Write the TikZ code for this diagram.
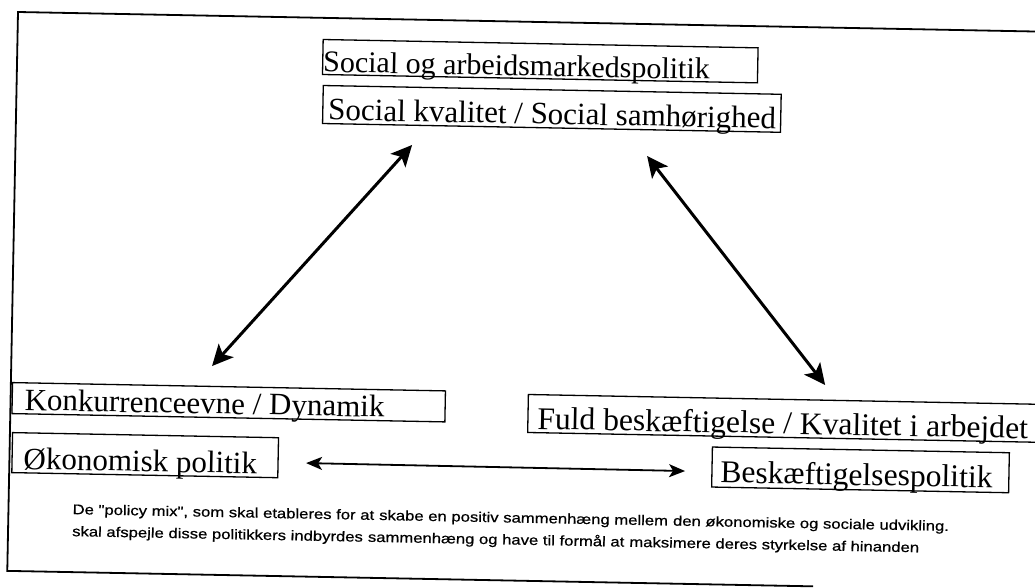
\documentclass[tikz,border=0pt]{standalone}
\usepackage{fontspec}
\setmainfont{Liberation Serif}
\newfontfamily\notefont[FakeStretch=1.19,FakeBold=0.6]{Liberation Sans}
\usetikzlibrary{arrows.meta}
\begin{document}
\begin{tikzpicture}[x=1pt,y=-1pt,
  frameline/.style={line width=1.8pt},
  box/.style={draw, line width=1.3pt, inner sep=0pt, anchor=north west},
  lbl/.style={inner sep=0pt, anchor=base west, font=\fontsize{31}{33}\selectfont},
  note/.style={inner sep=0pt, anchor=base west, font=\notefont\fontsize{14}{16}\selectfont},
  dbl/.style={line width=3pt, {Stealth[length=21pt,width=20pt,inset=5pt]}-{Stealth[length=21pt,width=20pt,inset=5pt]}},
  dblthin/.style={line width=1.8pt, {Stealth[length=16pt,width=13pt,inset=4pt]}-{Stealth[length=16pt,width=13pt,inset=4pt]}}]
\useasboundingbox[fill=white] (0,0) rectangle (1035,588);
\begin{scope}[shift={(18,12)}, rotate=-1.1, transform shape]
  % frame
  \draw[frameline] (1040,0) -- (0,0) -- (0,559) -- (806,559);
  % boxes
  \node[box, minimum width=435pt, minimum height=35pt] (b1) at (305,21) {};
  \node[lbl, font=\fontsize{30}{32}\selectfont] (t1) at (306,54) {Social og arbeidsmarkedspolitik};
  \node[box, minimum width=458pt, minimum height=38pt] (b2) at (306,67) {};
  \node[lbl] (t2) at (312,102) {Social kvalitet / Social samhørighed};
  \node[box, minimum width=433pt, minimum height=31pt] (b3) at (1,370) {};
  \node[lbl] (t3) at (14,398) {Konkurrenceevne / Dynamik};
  \node[box, minimum width=266pt, minimum height=40pt] (b4) at (2,420) {};
  \node[lbl] (t4) at (14,457) {Økonomisk politik};
  \node[box, minimum width=513pt, minimum height=38pt] (b5) at (517,372) {};
  \node[lbl, font=\fontsize{31.6}{33}\selectfont] (t5) at (527,407) {Fuld beskæftigelse / Kvalitet i arbejdet};
  \node[box, minimum width=297pt, minimum height=40pt] (b6) at (702,421) {};
  \node[lbl, font=\fontsize{31.6}{33}\selectfont] (t6) at (711,457) {Beskæftigelsespolitik};
  % arrow end points
  \coordinate (la) at (200.8,350.3);
  \coordinate (lb) at (396.6,125.4);
  \coordinate (ra) at (631.8,131.9);
  \coordinate (rb) at (814.2,357.5);
  \coordinate (ba) at (296.7,445.5);
  \coordinate (bb) at (675.8,446.2);
  \draw[dbl] (la) -- (lb);
  \draw[dbl] (ra) -- (rb);
  \draw[dblthin] (ba) -- (bb);
  % note, line 1
  \node[note] (n1a) at (64,501) {De "policy mix", som skal etableres for at};
  \node[note] (n1b) at (n1a.base east) {\ skabe en positiv sammenhæng mellem};
  \node[note] (n1c) at (n1b.base east) {\ den økonomiske og sociale udvikling.};
  % note, line 2
  \node[note] (n2a) at (64,523) {skal afspejle disse politikkers indbyrdes};
  \node[note] (n2b) at (n2a.base east) {\ sammenhæng og have til formål at};
  \node[note] (n2c) at (n2b.base east) {\ maksimere deres styrkelse af hinanden};
\end{scope}
\end{tikzpicture}
\end{document}
